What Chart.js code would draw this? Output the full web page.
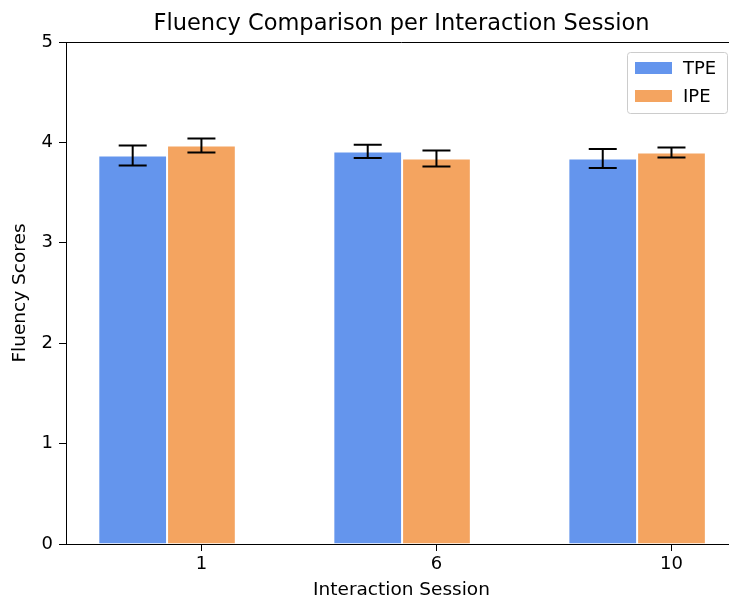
<!DOCTYPE html>
<html>
<head>
<meta charset="utf-8">
<script src="https://cdn.jsdelivr.net/npm/chart.js@4.4.0/dist/chart.umd.min.js"></script>
<style>
  html, body { margin: 0; padding: 0; background: #fff; overflow: hidden; }
  /* the reference axes run a few px past the right edge of the picture */
  #wrap { width: 729px; height: 601px; overflow: hidden; }
</style>
</head>
<body>
<div id="wrap"><canvas id="chart" width="737" height="601"></canvas></div>
<script>
// data
const sessions = ["1", "6", "10"];
const seriesNames = ["TPE", "IPE"];
const tpeScores = [3.87, 3.91, 3.84];
const tpeErrors = [0.10, 0.066, 0.095];
const ipeScores = [3.97, 3.84, 3.90];
const ipeErrors = [0.07, 0.08, 0.05];
const yTicks = [0, 1, 2, 3, 4, 5];

const colors = ["#6495ED", "#F4A460"];
const groupFrac = 0.585;
// matplotlib put the tick under the second bar of each pair
const tickShift = groupFrac / 4;

const FONT = "'DejaVu Sans', sans-serif";

// error bars + top spine
const errorBars = {
  id: "errorBars",
  afterDatasetsDraw(chart) {
    const ctx = chart.ctx;
    const y = chart.scales.y;
    ctx.save();
    ctx.strokeStyle = "#000";
    ctx.lineWidth = 2;
    chart.data.datasets.forEach((ds, d) => {
      const meta = chart.getDatasetMeta(d);
      meta.data.forEach((bar, i) => {
        const v = ds.data[i].y, e = ds.errors[i];
        const top = y.getPixelForValue(v + e);
        const bot = y.getPixelForValue(v - e);
        ctx.beginPath();
        ctx.moveTo(bar.x, top); ctx.lineTo(bar.x, bot);
        ctx.moveTo(bar.x - 14, top); ctx.lineTo(bar.x + 14, top);
        ctx.moveTo(bar.x - 14, bot); ctx.lineTo(bar.x + 14, bot);
        ctx.stroke();
      });
    });
    const a = chart.chartArea;
    ctx.lineWidth = 1;
    ctx.beginPath();
    ctx.moveTo(a.left, a.top + 0.5);
    ctx.lineTo(chart.width, a.top + 0.5);
    ctx.stroke();
    ctx.restore();
  }
};

// legend box inside the plot, upper right
const boxLegend = {
  id: "boxLegend",
  afterDraw(chart) {
    const ctx = chart.ctx;
    const x0 = 627, y0 = 52, w = 100, h = 61;
    ctx.save();
    ctx.fillStyle = "rgba(255,255,255,0.8)";
    ctx.strokeStyle = "#cccccc";
    ctx.lineWidth = 1;
    ctx.beginPath();
    ctx.roundRect(x0 + 0.5, y0 + 0.5, w, h, 3);
    ctx.fill();
    ctx.stroke();
    ctx.font = "18px " + FONT;
    ctx.textBaseline = "middle";
    chart.data.datasets.forEach((ds, i) => {
      const cy = y0 + 16 + i * 28;
      ctx.fillStyle = ds.backgroundColor;
      ctx.fillRect(x0 + 8, cy - 6, 37, 12);
      ctx.fillStyle = "#000";
      ctx.fillText(ds.label, x0 + 56, cy + 1);
    });
    ctx.restore();
  }
};

new Chart(document.getElementById("chart"), {
  type: "bar",
  data: {
    datasets: [
      {
        label: seriesNames[0],
        data: tpeScores.map((v, i) => ({ x: i, y: v })),
        errors: tpeErrors,
        backgroundColor: colors[0],
        borderColor: "#fff",
        borderWidth: 1
      },
      {
        label: seriesNames[1],
        data: ipeScores.map((v, i) => ({ x: i, y: v })),
        errors: ipeErrors,
        backgroundColor: colors[1],
        borderColor: "#fff",
        borderWidth: 1
      }
    ]
  },
  options: {
    responsive: false,
    animation: false,
    categoryPercentage: groupFrac,
    barPercentage: 1,
    layout: { padding: 0 },
    plugins: {
      legend: { display: false },
      tooltip: { enabled: false },
      title: {
        display: true,
        fullSize: false,
        text: "Fluency Comparison per Interaction Session",
        color: "#000",
        font: { family: FONT, size: 22.5, weight: "normal" },
        padding: { top: 11, bottom: 4 }
      }
    },
    scales: {
      x: {
        type: "linear",
        offset: false,
        min: -0.43,
        max: 2.425,
        afterBuildTicks: (s) => { s.ticks = sessions.map((_, i) => ({ value: i + tickShift })); },
        afterFit: (s) => { s.height = 57; },
        ticks: {
          color: "#000",
          font: { family: FONT, size: 18 },
          padding: 3,
          maxRotation: 0,
          autoSkip: false,
          callback: (v, i) => sessions[i]
        },
        grid: { offset: false, drawOnChartArea: false, drawTicks: true, tickLength: 7, color: "#000" },
        border: { display: true, color: "#000", width: 1 },
        title: {
          display: true,
          text: "Interaction Session",
          color: "#000",
          font: { family: FONT, size: 18.5 },
          padding: { top: 0, bottom: 0 }
        }
      },
      y: {
        min: 0,
        max: 5,
        afterBuildTicks: (s) => { s.ticks = yTicks.map(v => ({ value: v })); },
        afterFit: (s) => { s.width = 66; },
        ticks: {
          color: "#000",
          font: { family: FONT, size: 18 },
          padding: 6
        },
        grid: { drawOnChartArea: false, drawTicks: true, tickLength: 7, color: "#000" },
        border: { display: true, color: "#000", width: 1 },
        title: {
          display: true,
          text: "Fluency Scores",
          color: "#000",
          font: { family: FONT, size: 18.5 },
          padding: { top: 9, bottom: 0 }
        }
      }
    }
  },
  plugins: [errorBars, boxLegend]
});
</script>
</body>
</html>
